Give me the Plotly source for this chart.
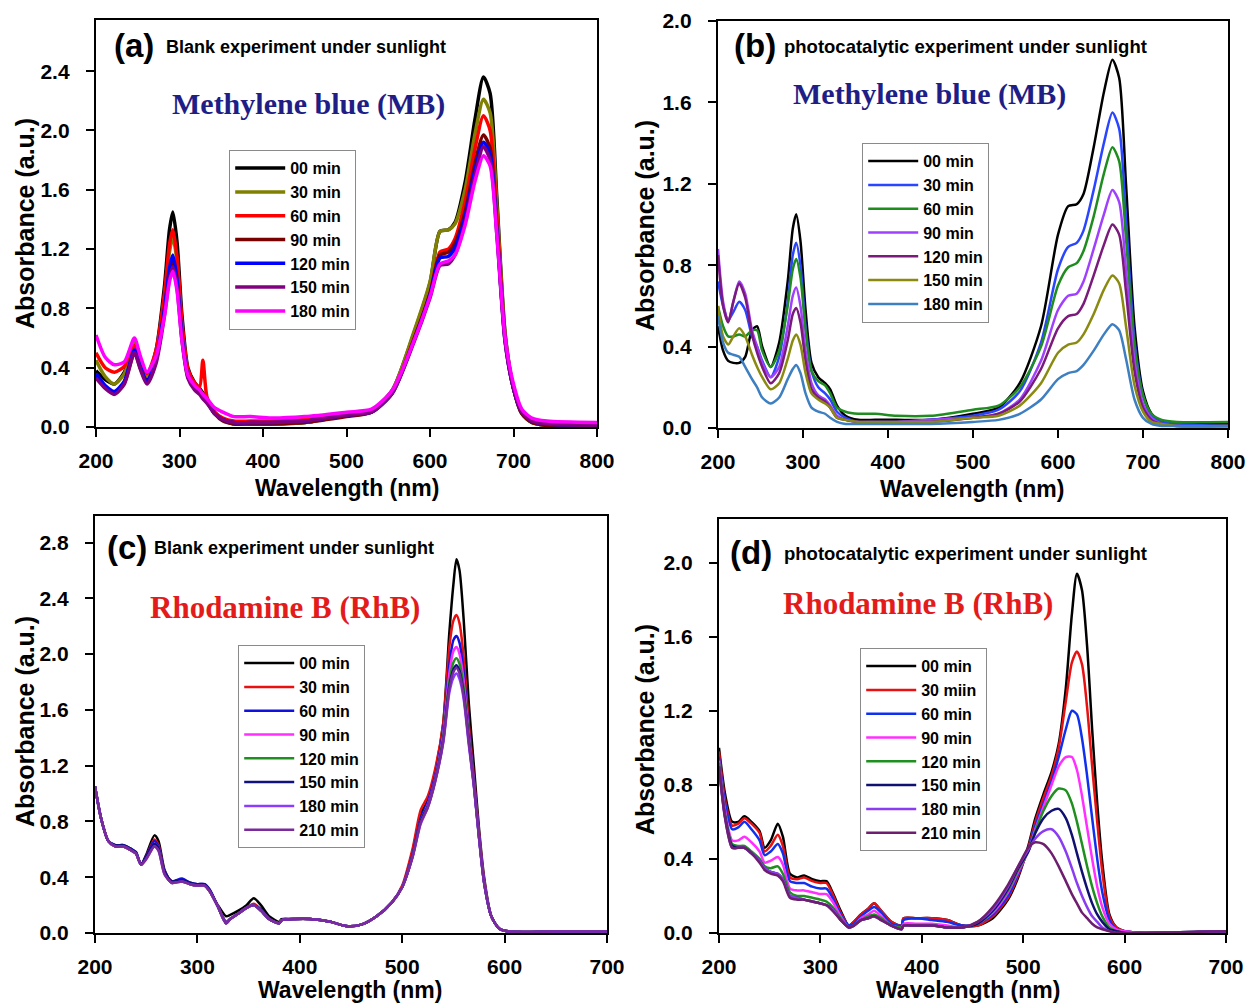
import plotly.graph_objects as go

W, H = 1251, 1005

# ---------------- Panel (a): MB blank ----------------
WL_A = [200, 211, 222, 234, 246, 253, 261, 272, 282, 288, 292, 297, 303, 310, 318, 324, 328, 333, 342, 352,
        365, 385, 410, 450, 500, 530, 555, 580, 600, 612, 622, 630, 642, 654, 664, 672, 680, 690, 700, 710,
        722, 740, 800]
A_LABELS = ["00 min", "30 min", "60 min", "90 min", "120 min", "150 min", "180 min"]
A_COLORS = ["#000000", "#808000", "#ff0000", "#7a0000", "#0000ff", "#800080", "#ff00ff"]
a_00 = [0.38, 0.32, 0.29, 0.37, 0.56, 0.45, 0.33, 0.52, 0.95, 1.33, 1.45, 1.25, 0.75, 0.40, 0.30, 0.26, 0.23, 0.19, 0.10, 0.05,
        0.02, 0.02, 0.02, 0.03, 0.08, 0.11, 0.25, 0.62, 0.97, 1.32, 1.33, 1.38, 1.65, 2.08, 2.36, 2.25, 1.55, 0.63, 0.26, 0.09,
        0.03, 0.01, 0.00]
a_30 = [0.45, 0.34, 0.29, 0.36, 0.57, 0.46, 0.34, 0.50, 0.88, 1.18, 1.28, 1.12, 0.68, 0.38, 0.29, 0.25, 0.22, 0.18, 0.10, 0.05,
        0.02, 0.02, 0.02, 0.03, 0.08, 0.11, 0.25, 0.63, 0.98, 1.32, 1.33, 1.37, 1.60, 1.98, 2.21, 2.12, 1.50, 0.62, 0.26, 0.09,
        0.03, 0.01, 0.00]
a_60 = [0.50, 0.40, 0.37, 0.41, 0.55, 0.46, 0.36, 0.52, 0.90, 1.23, 1.33, 1.15, 0.70, 0.39, 0.30, 0.27, 0.45, 0.20, 0.10, 0.06,
        0.04, 0.04, 0.04, 0.05, 0.09, 0.11, 0.24, 0.58, 0.90, 1.18, 1.20, 1.27, 1.52, 1.88, 2.10, 2.00, 1.42, 0.60, 0.27, 0.10,
        0.04, 0.02, 0.01]
a_90 = [0.35, 0.27, 0.23, 0.30, 0.50, 0.40, 0.30, 0.45, 0.78, 1.04, 1.13, 0.98, 0.60, 0.34, 0.26, 0.23, 0.20, 0.17, 0.09, 0.04,
        0.02, 0.02, 0.02, 0.03, 0.07, 0.10, 0.23, 0.58, 0.90, 1.16, 1.18, 1.24, 1.45, 1.78, 1.97, 1.88, 1.35, 0.58, 0.26, 0.09,
        0.03, 0.01, 0.00]
a_120 = [0.36, 0.28, 0.24, 0.31, 0.52, 0.41, 0.31, 0.46, 0.80, 1.07, 1.16, 1.00, 0.62, 0.35, 0.27, 0.24, 0.21, 0.17, 0.09, 0.05,
         0.03, 0.03, 0.03, 0.04, 0.08, 0.10, 0.23, 0.57, 0.89, 1.14, 1.15, 1.21, 1.42, 1.74, 1.92, 1.84, 1.33, 0.58, 0.26, 0.10,
         0.04, 0.02, 0.01]
a_150 = [0.33, 0.26, 0.22, 0.29, 0.50, 0.39, 0.29, 0.43, 0.75, 1.00, 1.08, 0.94, 0.58, 0.33, 0.25, 0.22, 0.19, 0.16, 0.09, 0.05,
         0.03, 0.03, 0.03, 0.04, 0.08, 0.10, 0.23, 0.56, 0.87, 1.09, 1.10, 1.16, 1.38, 1.70, 1.89, 1.80, 1.30, 0.57, 0.26, 0.10,
         0.04, 0.02, 0.01]
a_180 = [0.62, 0.47, 0.42, 0.44, 0.60, 0.48, 0.37, 0.48, 0.75, 0.98, 1.05, 0.92, 0.58, 0.35, 0.28, 0.25, 0.22, 0.19, 0.13, 0.10,
         0.07, 0.07, 0.06, 0.07, 0.10, 0.12, 0.25, 0.57, 0.88, 1.10, 1.12, 1.16, 1.36, 1.66, 1.83, 1.76, 1.30, 0.60, 0.29, 0.12,
         0.06, 0.04, 0.03]

# ---------------- Panel (b): MB photocatalytic ----------------
WL_B = [200, 206, 212, 218, 225, 232, 240, 246, 252, 262, 272, 282, 288, 292, 297, 303, 310, 318, 326, 332,
        340, 350, 365, 385, 410, 450, 500, 530, 555, 580, 600, 612, 622, 630, 642, 654, 664, 672, 680, 690,
        700, 710, 722, 740, 800]
B_LABELS = ["00 min", "30 min", "60 min", "90 min", "120 min", "150 min", "180 min"]
B_COLORS = ["#000000", "#2a45ff", "#1f8c1f", "#a040ff", "#7a1a7a", "#8a8a10", "#3d7fc0"]
b_00 = [0.50, 0.38, 0.33, 0.32, 0.32, 0.35, 0.48, 0.50, 0.40, 0.30, 0.42, 0.72, 0.98, 1.05, 0.92, 0.58, 0.32, 0.25, 0.22, 0.19,
        0.11, 0.06, 0.04, 0.04, 0.04, 0.04, 0.07, 0.10, 0.22, 0.50, 0.95, 1.09, 1.10, 1.15, 1.38, 1.65, 1.81, 1.72, 1.20, 0.50,
        0.18, 0.07, 0.03, 0.02, 0.02]
b_30 = [0.72, 0.60, 0.53, 0.57, 0.62, 0.58, 0.45, 0.40, 0.33, 0.25, 0.35, 0.62, 0.85, 0.91, 0.80, 0.50, 0.28, 0.20, 0.17, 0.14,
        0.08, 0.05, 0.03, 0.03, 0.03, 0.04, 0.06, 0.09, 0.18, 0.42, 0.78, 0.89, 0.91, 0.97, 1.17, 1.40, 1.55, 1.47, 1.03, 0.43,
        0.16, 0.06, 0.03, 0.02, 0.01]
b_60 = [0.60, 0.50, 0.45, 0.45, 0.46, 0.45, 0.48, 0.48, 0.38, 0.30, 0.38, 0.60, 0.78, 0.83, 0.74, 0.48, 0.28, 0.23, 0.21, 0.17,
        0.10, 0.08, 0.07, 0.07, 0.06, 0.06, 0.09, 0.11, 0.20, 0.40, 0.70, 0.79, 0.81, 0.87, 1.04, 1.25, 1.38, 1.31, 0.93, 0.40,
        0.16, 0.07, 0.04, 0.03, 0.03]
b_90 = [0.88, 0.62, 0.52, 0.62, 0.72, 0.66, 0.48, 0.40, 0.32, 0.25, 0.30, 0.50, 0.65, 0.69, 0.60, 0.38, 0.22, 0.16, 0.14, 0.11,
        0.06, 0.04, 0.03, 0.03, 0.03, 0.04, 0.05, 0.07, 0.14, 0.33, 0.58, 0.65, 0.66, 0.72, 0.88, 1.05, 1.17, 1.11, 0.78, 0.33,
        0.12, 0.05, 0.02, 0.01, 0.01]
b_120 = [0.85, 0.60, 0.52, 0.62, 0.71, 0.64, 0.46, 0.37, 0.30, 0.22, 0.27, 0.43, 0.56, 0.59, 0.52, 0.33, 0.19, 0.15, 0.13, 0.10,
         0.05, 0.04, 0.03, 0.03, 0.03, 0.03, 0.05, 0.07, 0.13, 0.29, 0.49, 0.55, 0.56, 0.61, 0.75, 0.90, 1.00, 0.95, 0.67, 0.28,
         0.10, 0.04, 0.02, 0.01, 0.01]
b_150 = [0.60, 0.45, 0.41, 0.45, 0.49, 0.45, 0.36, 0.30, 0.25, 0.19, 0.22, 0.34, 0.43, 0.46, 0.41, 0.27, 0.17, 0.14, 0.12, 0.10,
         0.05, 0.04, 0.03, 0.03, 0.03, 0.03, 0.05, 0.06, 0.11, 0.22, 0.37, 0.41, 0.42, 0.46, 0.56, 0.68, 0.75, 0.71, 0.50, 0.21,
         0.08, 0.03, 0.02, 0.01, 0.01]
b_180 = [0.55, 0.42, 0.37, 0.36, 0.35, 0.30, 0.24, 0.20, 0.15, 0.12, 0.15, 0.24, 0.29, 0.31, 0.27, 0.17, 0.10, 0.08, 0.07, 0.05,
         0.03, 0.02, 0.02, 0.02, 0.02, 0.02, 0.03, 0.04, 0.07, 0.14, 0.24, 0.27, 0.28, 0.31, 0.38, 0.46, 0.51, 0.48, 0.34, 0.14,
         0.05, 0.02, 0.01, 0.01, 0.01]

# ---------------- Panel (c): RhB blank ----------------
WL_C = [200, 206, 213, 220, 228, 236, 240, 245, 250, 258, 262, 268, 275, 285, 293, 300, 307, 312, 320, 328,
        332, 340, 348, 355, 362, 370, 380, 382, 395, 410, 430, 445, 460, 475, 490, 500, 510, 518, 525, 532,
        540, 546, 550, 553, 556, 560, 565, 570, 575, 580, 587, 595, 605, 650, 700]
C_LABELS = ["00 min", "30 min", "60 min", "90 min", "120 min", "150 min", "180 min", "210 min"]
C_COLORS = ["#000000", "#e81010", "#1010e0", "#ff30ff", "#1f8f1f", "#101080", "#8a3cff", "#7a2a9a"]
c_00 = [1.05, 0.82, 0.66, 0.62, 0.62, 0.59, 0.57, 0.49, 0.56, 0.70, 0.66, 0.45, 0.37, 0.38, 0.35, 0.34, 0.34, 0.30, 0.20, 0.12,
        0.13, 0.16, 0.20, 0.25, 0.20, 0.12, 0.08, 0.10, 0.10, 0.10, 0.08, 0.05, 0.06, 0.12, 0.22, 0.33, 0.58, 0.85, 0.95, 1.15,
        1.50, 2.15, 2.50, 2.68, 2.60, 2.25, 1.65, 1.20, 0.75, 0.40, 0.12, 0.03, 0.01, 0.01, 0.01]
c_30 = [1.05, 0.82, 0.66, 0.62, 0.62, 0.59, 0.57, 0.49, 0.55, 0.67, 0.63, 0.44, 0.37, 0.38, 0.35, 0.34, 0.34, 0.30, 0.19, 0.08,
        0.10, 0.14, 0.18, 0.21, 0.17, 0.10, 0.07, 0.09, 0.10, 0.10, 0.08, 0.05, 0.06, 0.12, 0.22, 0.34, 0.60, 0.88, 0.98, 1.17,
        1.50, 2.05, 2.24, 2.28, 2.22, 1.98, 1.50, 1.12, 0.72, 0.38, 0.12, 0.03, 0.01, 0.01, 0.01]
c_60 = [1.05, 0.82, 0.66, 0.63, 0.63, 0.60, 0.58, 0.49, 0.55, 0.66, 0.62, 0.44, 0.37, 0.39, 0.36, 0.35, 0.35, 0.31, 0.19, 0.08,
        0.10, 0.14, 0.18, 0.20, 0.17, 0.10, 0.07, 0.09, 0.10, 0.10, 0.08, 0.05, 0.06, 0.12, 0.22, 0.33, 0.56, 0.82, 0.94, 1.12,
        1.45, 1.92, 2.10, 2.13, 2.08, 1.87, 1.45, 1.10, 0.70, 0.37, 0.12, 0.03, 0.01, 0.01, 0.01]
c_90 = [1.05, 0.82, 0.66, 0.62, 0.62, 0.59, 0.57, 0.49, 0.54, 0.64, 0.61, 0.43, 0.36, 0.37, 0.35, 0.34, 0.34, 0.30, 0.19, 0.07,
        0.10, 0.14, 0.18, 0.20, 0.16, 0.10, 0.07, 0.09, 0.10, 0.10, 0.08, 0.05, 0.06, 0.12, 0.22, 0.33, 0.55, 0.80, 0.92, 1.10,
        1.42, 1.86, 2.02, 2.05, 2.00, 1.81, 1.42, 1.08, 0.70, 0.37, 0.12, 0.03, 0.01, 0.01, 0.01]
c_120 = [1.05, 0.82, 0.66, 0.62, 0.62, 0.59, 0.57, 0.49, 0.54, 0.63, 0.60, 0.43, 0.36, 0.37, 0.35, 0.34, 0.34, 0.30, 0.19, 0.07,
         0.10, 0.14, 0.18, 0.20, 0.16, 0.10, 0.07, 0.09, 0.10, 0.10, 0.08, 0.05, 0.06, 0.12, 0.22, 0.33, 0.55, 0.80, 0.91, 1.09,
         1.40, 1.80, 1.94, 1.97, 1.93, 1.76, 1.40, 1.07, 0.69, 0.36, 0.12, 0.03, 0.01, 0.01, 0.01]
c_150 = [1.05, 0.82, 0.66, 0.63, 0.63, 0.60, 0.58, 0.49, 0.55, 0.64, 0.61, 0.44, 0.37, 0.38, 0.36, 0.35, 0.35, 0.31, 0.19, 0.07,
         0.10, 0.14, 0.18, 0.20, 0.16, 0.10, 0.07, 0.09, 0.10, 0.10, 0.08, 0.05, 0.06, 0.12, 0.22, 0.33, 0.55, 0.80, 0.91, 1.09,
         1.38, 1.77, 1.89, 1.92, 1.88, 1.72, 1.38, 1.06, 0.69, 0.36, 0.12, 0.03, 0.01, 0.01, 0.01]
c_180 = [1.05, 0.82, 0.66, 0.62, 0.62, 0.59, 0.57, 0.49, 0.53, 0.62, 0.59, 0.42, 0.36, 0.37, 0.35, 0.34, 0.34, 0.30, 0.19, 0.07,
         0.10, 0.14, 0.18, 0.20, 0.16, 0.10, 0.07, 0.09, 0.10, 0.10, 0.08, 0.05, 0.06, 0.12, 0.22, 0.33, 0.54, 0.78, 0.90, 1.08,
         1.36, 1.72, 1.83, 1.86, 1.82, 1.68, 1.35, 1.05, 0.68, 0.36, 0.12, 0.03, 0.01, 0.01, 0.01]
c_210 = [1.05, 0.82, 0.66, 0.62, 0.62, 0.59, 0.57, 0.49, 0.53, 0.62, 0.59, 0.42, 0.36, 0.37, 0.35, 0.34, 0.34, 0.30, 0.19, 0.07,
         0.10, 0.14, 0.18, 0.20, 0.16, 0.10, 0.07, 0.09, 0.10, 0.10, 0.08, 0.05, 0.06, 0.12, 0.22, 0.33, 0.54, 0.79, 0.90, 1.08,
         1.37, 1.75, 1.87, 1.90, 1.86, 1.70, 1.37, 1.06, 0.69, 0.36, 0.12, 0.03, 0.01, 0.01, 0.01]

# ---------------- Panel (d): RhB photocatalytic ----------------
WL_D = [200, 206, 213, 219, 225, 232, 240, 245, 251, 258, 263, 270, 277, 284, 292, 300, 306, 312, 320, 328,
        333, 340, 347, 353, 360, 370, 380, 382, 395, 410, 425, 440, 455, 470, 485, 495, 505, 512, 520, 528,
        535, 542, 548, 553, 558, 563, 568, 573, 578, 585, 592, 600, 620, 700]
D_LABELS = ["00 min", "30 miin", "60 min", "90 min", "120 min", "150 min", "180 min", "210 min"]
D_COLORS = ["#000000", "#e81010", "#1030f0", "#ff30ff", "#1f8f1f", "#101070", "#8a3cf0", "#6e1e6e"]
d_00 = [1.00, 0.75, 0.60, 0.60, 0.63, 0.60, 0.55, 0.46, 0.50, 0.59, 0.52, 0.32, 0.30, 0.31, 0.29, 0.28, 0.28, 0.22, 0.12, 0.04,
        0.06, 0.10, 0.13, 0.16, 0.12, 0.06, 0.04, 0.08, 0.08, 0.08, 0.07, 0.04, 0.04, 0.08, 0.18, 0.30, 0.47, 0.62, 0.75, 0.87,
        1.02, 1.32, 1.72, 1.94, 1.85, 1.55, 1.10, 0.70, 0.38, 0.10, 0.03, 0.01, 0.00, 0.01]
d_30 = [0.98, 0.72, 0.58, 0.59, 0.62, 0.59, 0.54, 0.44, 0.47, 0.53, 0.47, 0.30, 0.29, 0.30, 0.28, 0.27, 0.27, 0.21, 0.11, 0.04,
        0.06, 0.10, 0.13, 0.16, 0.12, 0.06, 0.04, 0.08, 0.08, 0.08, 0.07, 0.04, 0.04, 0.09, 0.19, 0.31, 0.46, 0.60, 0.73, 0.85,
        1.00, 1.25, 1.46, 1.52, 1.45, 1.22, 0.90, 0.60, 0.33, 0.09, 0.03, 0.01, 0.00, 0.01]
d_60 = [0.95, 0.70, 0.56, 0.57, 0.60, 0.56, 0.50, 0.42, 0.44, 0.48, 0.43, 0.28, 0.27, 0.27, 0.25, 0.24, 0.24, 0.19, 0.10, 0.04,
        0.05, 0.09, 0.12, 0.14, 0.11, 0.05, 0.04, 0.07, 0.08, 0.07, 0.06, 0.04, 0.05, 0.10, 0.20, 0.32, 0.45, 0.58, 0.70, 0.82,
        0.95, 1.10, 1.20, 1.18, 1.05, 0.85, 0.62, 0.40, 0.22, 0.07, 0.02, 0.01, 0.00, 0.01]
d_90 = [0.93, 0.66, 0.50, 0.50, 0.52, 0.49, 0.44, 0.38, 0.39, 0.41, 0.37, 0.24, 0.23, 0.23, 0.22, 0.21, 0.21, 0.17, 0.09, 0.03,
        0.04, 0.08, 0.10, 0.12, 0.09, 0.04, 0.03, 0.05, 0.05, 0.05, 0.04, 0.03, 0.05, 0.11, 0.22, 0.33, 0.44, 0.56, 0.68, 0.80,
        0.90, 0.95, 0.95, 0.88, 0.74, 0.57, 0.40, 0.25, 0.14, 0.05, 0.02, 0.01, 0.00, 0.01]
d_120 = [0.92, 0.64, 0.48, 0.47, 0.47, 0.44, 0.40, 0.36, 0.35, 0.36, 0.32, 0.22, 0.20, 0.20, 0.19, 0.18, 0.17, 0.14, 0.08, 0.03,
         0.04, 0.07, 0.09, 0.10, 0.08, 0.04, 0.03, 0.04, 0.04, 0.04, 0.03, 0.03, 0.05, 0.12, 0.23, 0.34, 0.44, 0.55, 0.66, 0.74,
         0.78, 0.77, 0.70, 0.60, 0.48, 0.36, 0.25, 0.16, 0.09, 0.03, 0.01, 0.00, 0.00, 0.01]
d_150 = [0.90, 0.63, 0.47, 0.46, 0.46, 0.43, 0.39, 0.35, 0.33, 0.32, 0.29, 0.20, 0.19, 0.18, 0.17, 0.16, 0.15, 0.13, 0.07, 0.03,
         0.04, 0.07, 0.08, 0.09, 0.07, 0.04, 0.02, 0.04, 0.04, 0.04, 0.03, 0.03, 0.05, 0.12, 0.24, 0.35, 0.44, 0.54, 0.62, 0.66,
         0.67, 0.62, 0.53, 0.43, 0.33, 0.24, 0.16, 0.10, 0.06, 0.02, 0.01, 0.00, 0.00, 0.01]
d_180 = [0.90, 0.62, 0.46, 0.46, 0.46, 0.43, 0.39, 0.35, 0.33, 0.32, 0.29, 0.20, 0.19, 0.18, 0.17, 0.16, 0.15, 0.13, 0.07, 0.03,
         0.04, 0.07, 0.08, 0.09, 0.07, 0.04, 0.02, 0.04, 0.04, 0.04, 0.03, 0.03, 0.06, 0.13, 0.25, 0.36, 0.45, 0.51, 0.55, 0.56,
         0.52, 0.44, 0.35, 0.27, 0.20, 0.14, 0.09, 0.06, 0.03, 0.01, 0.00, 0.00, 0.00, 0.01]
d_210 = [0.90, 0.62, 0.46, 0.46, 0.46, 0.43, 0.38, 0.34, 0.32, 0.31, 0.28, 0.19, 0.18, 0.18, 0.17, 0.16, 0.15, 0.12, 0.07, 0.03,
         0.04, 0.07, 0.08, 0.09, 0.07, 0.04, 0.02, 0.04, 0.04, 0.04, 0.03, 0.03, 0.06, 0.14, 0.26, 0.36, 0.46, 0.49, 0.48, 0.43,
         0.36, 0.28, 0.21, 0.16, 0.11, 0.08, 0.05, 0.03, 0.02, 0.01, 0.00, 0.00, 0.00, 0.01]

# ---------------- layout geometry (pixels) ----------------
def px(x):
    return x / W

def py(y):
    return 1 - y / H

SANS = "Liberation Sans, Arial, sans-serif"
SERIF = "Liberation Serif, Times New Roman, serif"

panels = [
    dict(wl=WL_A, series=[a_00, a_30, a_60, a_90, a_120, a_150, a_180], labels=A_LABELS, colors=A_COLORS,
         lw=3.5, xd=(96, 597), yd=(20, 427), xr=(200, 800), yr=(0, 2.745), legend_xy=(229, 150)),
    dict(wl=WL_B, series=[b_00, b_30, b_60, b_90, b_120, b_150, b_180], labels=B_LABELS, colors=B_COLORS,
         lw=2.5, xd=(718, 1228), yd=(21, 428), xr=(200, 800), yr=(0, 2.0), legend_xy=(862, 143)),
    dict(wl=WL_C, series=[c_00, c_30, c_60, c_90, c_120, c_150, c_180, c_210], labels=C_LABELS, colors=C_COLORS,
         lw=2.5, xd=(95, 607), yd=(516, 933), xr=(200, 700), yr=(0, 2.99), legend_xy=(238, 645)),
    dict(wl=WL_D, series=[d_00, d_30, d_60, d_90, d_120, d_150, d_180, d_210], labels=D_LABELS, colors=D_COLORS,
         lw=2.5, xd=(719, 1226), yd=(519, 933), xr=(200, 700), yr=(0, 2.235), legend_xy=(860, 648)),
]

fig = go.Figure()
layout = dict(width=W, height=H, margin=dict(l=0, r=0, t=0, b=0, autoexpand=False), paper_bgcolor="white",
              plot_bgcolor="white", font=dict(family=SANS, color="black"), showlegend=True)

for i, p in enumerate(panels):
    k = "" if i == 0 else str(i + 1)
    xa, ya = "x" + k, "y" + k
    lg = "legend" + k
    for vals, lab, col in zip(p["series"], p["labels"], p["colors"]):
        fig.add_trace(go.Scatter(x=p["wl"], y=vals, mode="lines", name=lab, xaxis=xa, yaxis=ya, legend=lg,
                                 line=dict(color=col, width=p["lw"], shape="spline", smoothing=0.7)))
    axis_common = dict(showline=True, linecolor="black", linewidth=2.4, mirror=True, ticks="outside",
                       ticklen=8, tickwidth=2.4, tickcolor="black", showgrid=False, zeroline=False,
                       automargin=False,
                       tickfont=dict(family=SANS, size=21, color="black", weight="bold"))
    layout["xaxis" + k] = dict(axis_common, domain=[px(p["xd"][0]), px(p["xd"][1])], range=list(p["xr"]),
                               dtick=100, tick0=200, anchor=ya, ticklabelstandoff=6)
    layout["yaxis" + k] = dict(axis_common, domain=[py(p["yd"][1]), py(p["yd"][0])], range=list(p["yr"]),
                               dtick=0.4, tick0=0, tickformat=".1f", anchor=xa, ticklabelstandoff=12)
    lx, ly = p["legend_xy"]
    layout[lg] = dict(x=px(lx), y=py(ly), xanchor="left", yanchor="top", bgcolor="white",
                      bordercolor="#8a8a8a", borderwidth=1.2, tracegroupgap=0, itemwidth=50,
                      font=dict(family=SANS, size=16, color="black", weight="bold"))

fig.update_layout(**layout)

anns = []
def ann(text, x, y, size, family=SANS, color="black", weight="bold", xanchor="center", angle=0):
    anns.append(dict(text=text, x=px(x), y=py(y), xref="paper", yref="paper", showarrow=False,
                     xanchor=xanchor, yanchor="middle", textangle=angle,
                     font=dict(family=family, size=size, color=color, weight=weight)))

# panel letters + subtitles
ann("(a)", 112, 46, 33, xanchor="left")
ann("Blank experiment under sunlight", 164, 47, 18, xanchor="left")
ann("(b)", 732, 46, 33, xanchor="left")
ann("photocatalytic experiment under sunlight", 782, 47, 18.5, xanchor="left")
ann("(c)", 105, 547, 33, xanchor="left")
ann("Blank experiment under sunlight", 152, 548, 18, xanchor="left")
ann("(d)", 728, 552, 33, xanchor="left")
ann("photocatalytic experiment under sunlight", 782, 553, 18.5, xanchor="left")
# dye names
ann("Methylene blue (MB)", 308, 104, 30, family=SERIF, color="#1e1e86")
ann("Methylene blue (MB)", 929, 94, 30, family=SERIF, color="#1e1e86")
ann("Rhodamine B (RhB)", 285, 607, 31, family=SERIF, color="#e31b1b")
ann("Rhodamine B (RhB)", 918, 603, 31, family=SERIF, color="#e31b1b")
# axis titles
ann("Wavelength (nm)", 347, 488, 23)
ann("Wavelength (nm)", 972, 489, 23)
ann("Wavelength (nm)", 350, 990, 23)
ann("Wavelength (nm)", 968, 990, 23)
ann("Absorbance (a.u.)", 25, 224, 25, angle=-90)
ann("Absorbance (a.u.)", 645, 226, 25, angle=-90)
ann("Absorbance (a.u.)", 25, 722, 25, angle=-90)
ann("Absorbance (a.u.)", 645, 730, 25, angle=-90)

fig.update_layout(annotations=anns)
fig.write_html("out.html")
